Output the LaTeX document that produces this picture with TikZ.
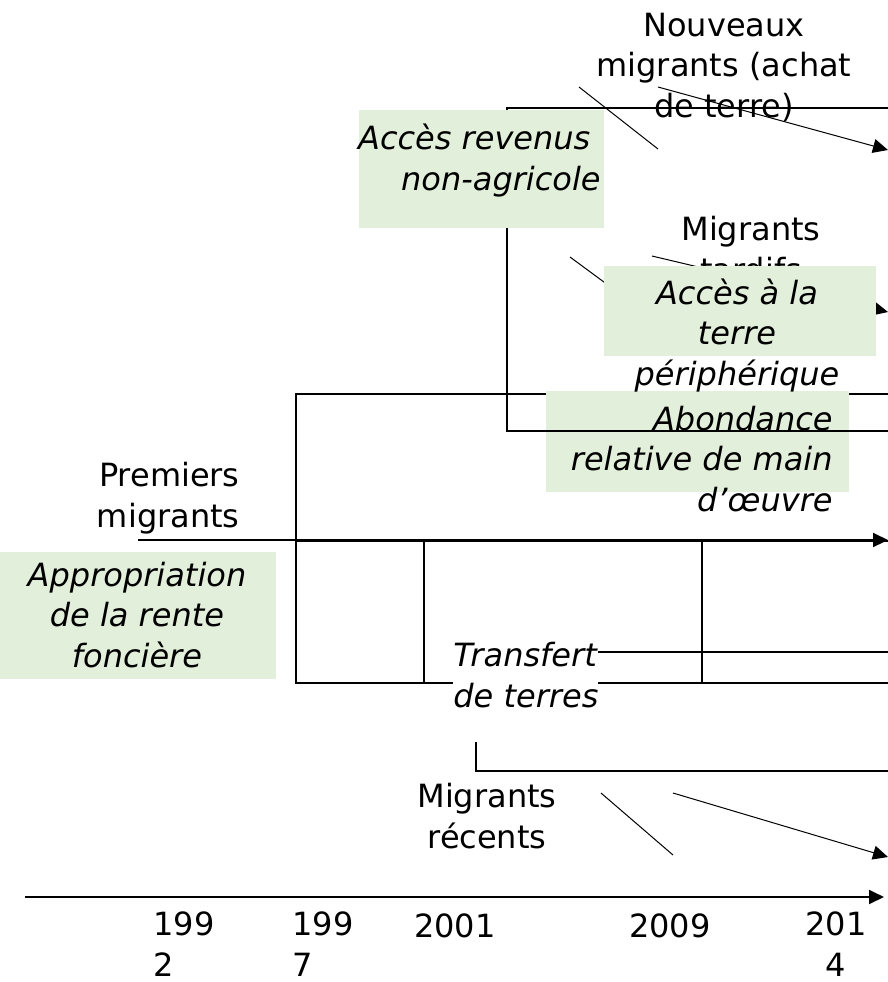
\documentclass[tikz,border=0pt]{standalone}
\usepackage{fontspec}
\setmainfont{DejaVu Sans}
\usetikzlibrary{arrows.meta,fit}
\definecolor{boxgreen}{HTML}{E2EFDA}
\newcommand{\lblfont}{\fontsize{16}{20.25}\selectfont}
\tikzstyle{greenbox} = [fill=boxgreen, draw=none, inner sep=0pt]
\tikzstyle{lbl} = [font=\lblfont, inner sep=0pt]
\tikzstyle{ilbl} = [font=\lblfont\itshape, inner sep=0pt]
\tikzstyle{thinline} = [line width=0.5pt]
\tikzstyle{frameline} = [line width=0.65pt]
\tikzstyle{thickline} = [line width=1.2pt]
\tikzstyle{arrowline} = [line width=0.5pt, -{Triangle[length=7.5pt,width=7pt]}]

\begin{document}
\begin{tikzpicture}[x=0.5pt, y=-0.5pt]
  \useasboundingbox (0,0) rectangle (888,982);
  % frames of the periods
  \draw[frameline] (296,394) rectangle (892,541);
  \draw[frameline] (296,541) rectangle (892,683);
  \draw[frameline] (424,541) rectangle (702,683);
  \coordinate (xferline) at (595,652);
  \draw[frameline] (xferline) -- (892,652);
  \coordinate (recentcorner) at (476,742);
  \draw[frameline] (recentcorner) |- (892,771);
  % arrows of the migrant groups
  \coordinate (pstart) at (138,540);
  \coordinate (pend) at (888,540);
  \draw[arrowline, line width=1.1pt] (pstart) -- (pend);
  \coordinate (n1a) at (579,87);
  \coordinate (n1b) at (658,149);
  \coordinate (n2a) at (658,87);
  \coordinate (n2b) at (888,150);
  \draw[thinline] (n1a) -- (n1b);
  \draw[arrowline] (n2a) -- (n2b);
  \coordinate (t1a) at (570,257);
  \coordinate (t1b) at (650,316);
  \coordinate (t2a) at (652,256);
  \coordinate (t2b) at (888,312);
  \draw[thinline] (t1a) -- (t1b);
  \draw[arrowline] (t2a) -- (t2b);
  \coordinate (r1a) at (601,793);
  \coordinate (r1b) at (673,855);
  \coordinate (r2a) at (673,793);
  \coordinate (r2b) at (888,857);
  \draw[thinline] (r1a) -- (r1b);
  \draw[arrowline] (r2a) -- (r2b);
  \node[lbl, align=center, anchor=base] (tardifs) at (751,281) {Migrants\\tardifs};
  % green boxes
  \node[greenbox, fit={(546,391) (849,492)}] (abonbox) {};
  \node[greenbox, fit={(0,552) (276,679)}] (approbox) {};
  \node[greenbox, fit={(604,266) (876,356)}] (terrebox) {};
  \draw[thickline] (890,108) -| (507,431) -- (892,431);
  \node[greenbox, fit={(359,110) (604,228)}] (revbox) {};
  % texts (base = last line)
  \node[lbl, align=center, anchor=base] (nouveaux) at (724,117) {Nouveaux\\migrants (achat\\de terre)};
  \node[ilbl, align=right, anchor=base east] (revtext) at (601,190) {Accès revenus\ \mbox{}\\non-agricole};
  \node[ilbl, align=center, anchor=base] (terretext) at (737,385) {Accès à la\\terre\\périphérique};
  \node[ilbl, align=right, anchor=base east] (abontext) at (833,511) {Abondance\\relative de main\\d’œuvre};
  \node[lbl, align=right, anchor=base east] (premiers) at (240,527) {Premiers\\migrants};
  \node[ilbl, align=center, anchor=base] (approtext) at (137,667) {Appropriation\\de la rente\\foncière};
  \node[ilbl, align=left, anchor=base west, fill=white] (xfer) at (453,707) {Transfert\\de terres};
  \node[lbl, align=center, anchor=base] (recents) at (487,848) {Migrants\\récents};
  % time axis
  \coordinate (tstart) at (25,897);
  \coordinate (tend) at (884,897);
  \draw[arrowline, line width=0.9pt] (tstart) -- (tend);
  \node[lbl, align=left, anchor=base west] (y1992) at (153,976) {199\\2};
  \node[lbl, align=left, anchor=base west] (y1997) at (292,976) {199\\7};
  \node[lbl, anchor=base] (y2001) at (455,937) {2001};
  \node[lbl, anchor=base] (y2009) at (670,937) {2009};
  \node[lbl, align=center, anchor=base] (y2014) at (836,976) {201\\4};
\end{tikzpicture}
\end{document}
